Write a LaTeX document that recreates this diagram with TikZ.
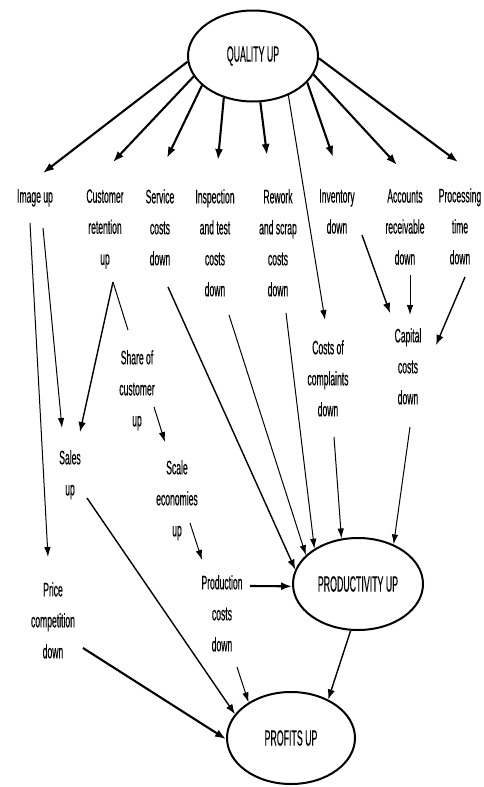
\documentclass[tikz,border=0pt]{standalone}
\usepackage{fontspec}
\newfontfamily\labfont{Liberation Sans}[FakeStretch=0.44,FakeBold=0.3]
\newfontfamily\ellfont{Liberation Sans}[FakeStretch=0.40,FakeBold=0.3]
\usetikzlibrary{shapes.geometric,arrows.meta,calc}
\begin{document}
\begin{tikzpicture}[x=1pt,y=-1pt,
  lab/.style={font=\labfont\fontsize{19.5}{31}\selectfont, align=center, inner sep=0pt, anchor=north},
  oval/.style={ellipse, draw, line width=2pt, font=\ellfont\fontsize{22}{24}\selectfont, inner sep=0pt},
  thk/.style={line width=2.1pt, -{Latex[length=11pt,width=8pt]}},
  med/.style={line width=1.4pt, -{Latex[length=10pt,width=7.5pt]}},
  thn/.style={line width=1pt, -{Latex[length=10pt,width=6.5pt]}},
  pln/.style={line width=1pt}]
\useasboundingbox (0,0) rectangle (484,787);
% ellipses
\node[oval, minimum width=130pt, minimum height=91pt] (q) at (253,56) {QUALITY UP};
\node[oval, minimum width=130pt, minimum height=92pt] (prod) at (358,584) {PRODUCTIVITY UP};
\node[oval, minimum width=128pt, minimum height=92pt] (prof) at (291,738) {PROFITS UP};
% top row labels
\node[lab] (img) at (35,189) {Image up};
\node[lab] (cust) at (105,189) {Customer\\retention\\up};
\node[lab] (svc) at (160,189) {Service\\costs\\down};
\node[lab] (insp) at (215,189) {Inspection\\and test\\costs\\down};
\node[lab] (rew) at (278,189) {Rework\\and scrap\\costs\\down};
\node[lab] (inv) at (337,189) {Inventory\\down};
\node[lab] (acc) at (405,189) {Accounts\\receivable\\down};
\node[lab] (proc) at (460,188) {Processing\\time\\down};
% middle labels
\node[lab] (share) at (137,350) {Share of\\customer\\up};
\node[lab] (sales) at (70,450) {Sales\\up};
\node[lab] (scale) at (177,460) {Scale\\economies\\up};
\node[lab] (compl) at (328,340) {Costs of\\complaints\\down};
\node[lab] (cap) at (408,328) {Capital\\costs\\down};
\node[lab] (price) at (53,582) {Price\\competition\\down};
\node[lab] (pcost) at (222,575) {Production\\costs\\down};
% from QUALITY UP
\draw[thk] (q.185) -- ($(img.north)+(8,-16)$);
\draw[thk] (q.199) -- ($(cust.north)+(8,-27)$);
\draw[thk] (q.210) -- ($(svc.north)+(7,-31)$);
\draw[thk] (q.235) -- ($(insp.north)+(3,-29)$);
\draw[thk] (q.279) -- ($(rew.north)+(-11,-34)$);
\draw[thn] (q.312) -- ($(compl.north)+(-3,-20)$);
\draw[thk] (q.334) -- ($(inv.north)+(-4,-32)$);
\draw[thk] (q.343) -- ($(acc.north)+(-8,-24)$);
\draw[thk] (q.358) -- ($(proc.north)+(-2,-26)$);
% left side
\draw[thn] ($(img.north)+(-5,34)$) -- ($(price.north)+(-5,-25)$);
\draw[thn] ($(img.north)+(8,39)$) -- ($(sales.north)+(-8,-22)$);
\coordinate (split) at ($(cust.north)+(8,93)$);
\draw[med] (split) -- ($(sales.north)+(10,-18)$);
\draw[pln] (split) -- ($(share.north)+(-9,-20)$);
\draw[thn] ($(share.north)+(17,57)$) -- ($(scale.north)+(-12,-18)$);
\draw[thn] ($(scale.north)+(13,63)$) -- ($(pcost.north)+(-20,-15)$);
\draw[thn] ($(pcost.north)+(15,92)$) -- (prof.140);
\draw[thk] ($(pcost.north)+(28,11)$) -- (prod.182);
\draw[med] ($(sales.north)+(17,48)$) -- (prof.157);
\draw[thk] ($(price.north)+(30,66)$) -- (prof.181);
\draw[med] (prod.261) -- (prof.46);
% into PRODUCTIVITY UP
\draw[med] ($(svc.north)+(8,98)$) -- (prod.167);
\draw[thn] ($(insp.north)+(14,126)$) -- (prod.151);
\draw[thn] ($(rew.north)+(8,124)$) -- (prod.141);
\draw[thn] ($(compl.north)+(6,97)$) -- (prod.110);
\draw[thn] ($(cap.north)+(2,99)$) -- (prod.48);
% into Capital costs down
\draw[med] ($(inv.north)+(25,46)$) -- ($(cap.north)+(-18,-15)$);
\draw[thn] ($(acc.north)+(5,86)$) -- ($(cap.north)+(2,-13)$);
\draw[med] ($(proc.north)+(5,89)$) -- ($(cap.north)+(28,17)$);
\end{tikzpicture}
\end{document}
